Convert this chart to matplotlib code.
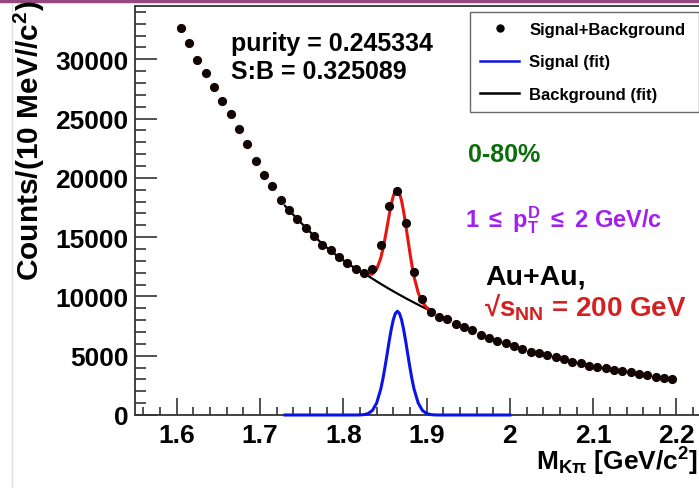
import numpy as np
import matplotlib
matplotlib.use("Agg")
import matplotlib.pyplot as plt
from matplotlib.lines import Line2D

plt.rcParams['font.family'] = ['Liberation Sans', 'DejaVu Sans']
plt.rcParams['font.weight'] = 'bold'
plt.rcParams['mathtext.fontset'] = 'custom'
plt.rcParams['mathtext.rm'] = 'Liberation Sans:bold'
plt.rcParams['mathtext.bf'] = 'Liberation Sans:bold'
plt.rcParams['mathtext.it'] = 'Liberation Sans:bold'

# ------------------------------------------------------------------------
# DATA
# ------------------------------------------------------------------------
mass = [1.605, 1.615, 1.625, 1.635, 1.645, 1.655, 1.665, 1.675, 1.685, 1.695,
        1.705, 1.715, 1.725, 1.735, 1.745, 1.755, 1.765, 1.775, 1.785, 1.795,
        1.805, 1.815, 1.825, 1.835, 1.845, 1.855, 1.865, 1.875, 1.885, 1.895,
        1.905, 1.915, 1.925, 1.935, 1.945, 1.955, 1.965, 1.975, 1.985, 1.995,
        2.005, 2.015, 2.025, 2.035, 2.045, 2.055, 2.065, 2.075, 2.085, 2.095,
        2.105, 2.115, 2.125, 2.135, 2.145, 2.155, 2.165, 2.175, 2.185, 2.195]
counts = [32650, 31360, 29950, 28830, 27640, 26480, 25360, 24120, 22880, 21450,
          20230, 19350, 18150, 17270, 16510, 15810, 15100, 14310, 13890, 13330,
          12850, 12340, 11980, 12280, 14310, 17610, 18880, 16230, 12060, 9750,
          8680, 8260, 8110, 7690, 7410, 7130, 6760, 6480, 6200, 6060,
          5810, 5580, 5350, 5220, 5070, 4880, 4730, 4510, 4370, 4170,
          4080, 3950, 3830, 3720, 3610, 3470, 3380, 3240, 3150, 3040]

sig_x = [1.73, 1.815, 1.82, 1.825, 1.83, 1.835, 1.84, 1.845, 1.8475, 1.85, 1.8525,
         1.855, 1.8575, 1.86, 1.8625, 1.865, 1.8675, 1.87, 1.8725, 1.875, 1.8775,
         1.88, 1.8825, 1.885, 1.89, 1.895, 1.90, 1.905, 1.91, 1.915, 2.0]
sig_y = [0, 0, 7, 34, 125, 385, 1000, 2180, 3020, 4010, 5085,
         6190, 7200, 8020, 8560, 8750, 8560, 8020, 7200, 6190, 5085,
         4010, 3020, 2180, 1000, 385, 125, 34, 7, 0, 0]

bkg_x = [1.73, 1.745, 1.755, 1.765, 1.775, 1.785, 1.795, 1.805, 1.815, 1.825,
         1.835, 1.845, 1.855, 1.865, 1.875, 1.885, 1.895, 1.905]
bkg_y = [17650, 16510, 15810, 15100, 14420, 13850, 13300, 12800, 12340, 11950,
         11500, 11060, 10640, 10240, 9850, 9480, 9120, 8780]

tot_x = [1.82, 1.825, 1.83, 1.835, 1.84, 1.845, 1.8475, 1.85, 1.8525, 1.855,
         1.8575, 1.86, 1.8625, 1.865, 1.8675, 1.87, 1.8725, 1.875, 1.8775, 1.88,
         1.8825, 1.885, 1.89, 1.895, 1.90, 1.905]
tot_y = [12150, 11980, 11845, 11885, 12280, 13240, 13975, 14860, 15830, 16830,
         17740, 18460, 18900, 18990, 18700, 18065, 17150, 16040, 14845, 13675,
         12590, 11660, 10300, 9505, 9075, 8815]

xticks = [1.6, 1.7, 1.8, 1.9, 2.0, 2.1, 2.2]
xtick_labels = ['1.6', '1.7', '1.8', '1.9', '2', '2.1', '2.2']
yticks = [0, 5000, 10000, 15000, 20000, 25000, 30000]

# ------------------------------------------------------------------------
# PLOT
# ------------------------------------------------------------------------
W, H = 699, 489
fig = plt.figure(figsize=(W / 100, H / 100), dpi=100)
ax = fig.add_axes([135 / W, 1 - 416 / H, 1 - 135 / W + 0.01, (416 - 7) / H])

ax.plot(sig_x, sig_y, color='#0a14e6', lw=2.2, zorder=3, clip_on=False)
ax.plot(bkg_x, bkg_y, color='black', lw=1.6, zorder=3)
ax.plot(tot_x, tot_y, color='#e8140f', lw=2.2, zorder=3)
ax.plot(mass, counts, 'o', color='#140505', ms=5.6, zorder=4)

ax.set_xlim(1.55, 2.227 + 0.01 * 0.84)
ax.set_ylim(0, 34500)
ax.set_xticks(xticks)
ax.set_xticklabels(xtick_labels)
ax.set_xticks(np.arange(1.56, 2.23, 0.02), minor=True)
ax.set_yticks(yticks)
ax.set_yticks(np.arange(0, 34001, 1000), minor=True)
ax.tick_params(axis='both', which='both', direction='in', color='#333333', width=1.2,
               labelsize=19)
ax.tick_params(axis='x', which='major', length=12, pad=6)
ax.tick_params(axis='x', which='minor', length=6)
ax.tick_params(axis='y', which='major', length=16, pad=4.5)
ax.tick_params(axis='y', which='minor', length=8)
for s in ax.spines.values():
    s.set_color('#333333')
    s.set_linewidth(1.3)
for lab in ax.get_xticklabels() + ax.get_yticklabels():
    lab.set_fontweight('bold')

# axis titles
fig.text(29 / W, 1 - 1 / H, r'Counts/(10 MeV//c$^{2}$)', rotation=90,
         ha='center', va='top', fontsize=21.5, fontweight='bold')
fig.text(698 / W, 1 - 471 / H, r'M$_{\mathbf{K\pi}}$ [GeV/c$^{2}$]',
         ha='right', va='baseline', fontsize=19, fontweight='bold')

# annotations
fig.text(231 / W, 1 - 51 / H, 'purity = 0.245334', fontsize=18,
         fontweight='bold', va='baseline')
fig.text(231 / W, 1 - 79 / H, 'S:B = 0.325089', fontsize=18,
         fontweight='bold', va='baseline')
fig.text(468 / W, 1 - 162 / H, '0-80%', fontsize=18, fontweight='bold',
         color='#0a6e0a', va='baseline')
fig.text(465 / W, 1 - 227 / H, r'1 $\leq$ p$_{T}^{D}$ $\leq$ 2 GeV/c', fontsize=17,
         fontweight='bold', color='#a020f0', va='baseline')
fig.text(485 / W, 1 - 285 / H, 'Au+Au,', fontsize=20.5, fontweight='bold',
         color='black', va='baseline')
fig.text(484 / W, 1 - 317 / H, '\u221as$_{\\mathbf{NN}}$ = 200 GeV', fontsize=20,
         fontweight='bold', color='#d42020', va='baseline')

# legend
handles = [Line2D([], [], ls='none', marker='o', color='black', ms=5),
           Line2D([], [], color='#0a14e6', lw=1.8),
           Line2D([], [], color='black', lw=1.8)]
leg = fig.legend(handles, ['Signal+Background', 'Signal (fit)', 'Background (fit)'],
                 loc='upper left',
                 bbox_to_anchor=(470 / W, 1 - 111 / H, 229 / W, 98 / H),
                 mode='expand', borderaxespad=0, frameon=True, fancybox=False,
                 handlelength=2.35, handletextpad=0.6, labelspacing=1.05,
                 borderpad=0.6, prop={'weight': 'bold', 'size': 12})
leg.get_frame().set_edgecolor('#444444')
leg.get_frame().set_linewidth(1.0)

# slide decorations
fig.add_artist(Line2D([0, 1], [1 - 1.5 / H, 1 - 1.5 / H], color='#944a7c', lw=2.5,
                      transform=fig.transFigure))
fig.add_artist(Line2D([12 / W, 12 / W], [0, 1 - 5 / H], color='#dddddd', lw=1,
                      transform=fig.transFigure))

fig.savefig('out.png', dpi=100)
